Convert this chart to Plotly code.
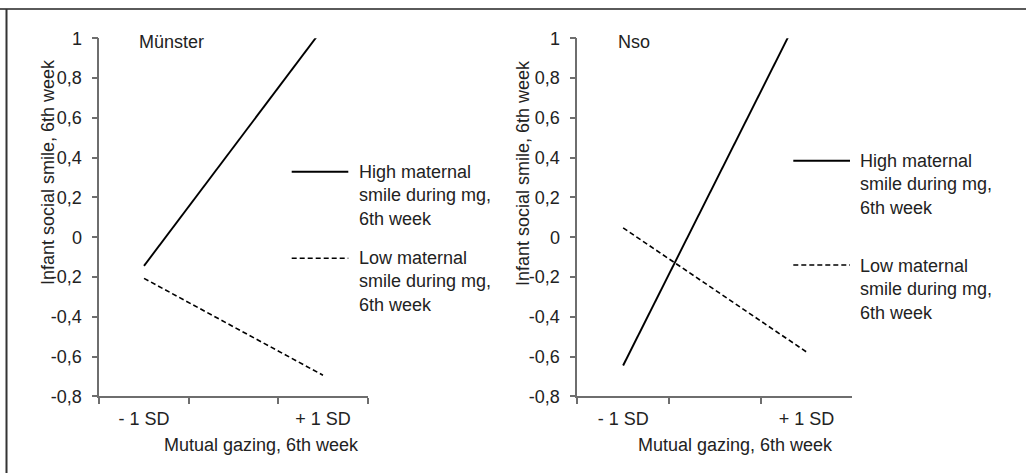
import plotly.graph_objects as go

# ---- data ----
x_categories = ["- 1 SD", " ", "+ 1 SD"]
x_points = ["- 1 SD", "+ 1 SD"]
munster_high = [-0.144, 1.05]
munster_low = [-0.207, -0.694]
nso_high = [-0.645, 1.19]
nso_low = [0.047, -0.577]
y_tickvals = [-0.8, -0.6, -0.4, -0.2, 0, 0.2, 0.4, 0.6, 0.8, 1]
y_ticktext = ["-0,8", "-0,6", "-0,4", "-0,2", "0", "0,2", "0,4", "0,6", "0,8", "1"]
panel_titles = ["Münster", "Nso"]
series_names = ["High maternal<br>smile during mg,<br>6th week",
                "Low maternal<br>smile during mg,<br>6th week"]
x_title = "Mutual gazing, 6th week"
y_title = "Infant social smile, 6th week"

W, H = 1026, 473
FONT = "Liberation Sans, Arial, sans-serif"
TXT = "#222222"
AX = "#6e6e6e"
FS = 18

def px(x):
    return x / W

def py(y):
    return 1 - y / H

fig = go.Figure()

panels = [
    dict(high=munster_high, low=munster_low, xa="x", ya="y",
         dom=(99.3, 367.7)),
    dict(high=nso_high, low=nso_low, xa="x2", ya="y2",
         dom=(577.3, 852.3)),
]

for p in panels:
    fig.add_trace(go.Scatter(x=x_points, y=p["high"], mode="lines",
                             line=dict(color="black", width=1.9),
                             xaxis=p["xa"], yaxis=p["ya"], showlegend=False,
                             hoverinfo="skip"))
    fig.add_trace(go.Scatter(x=x_points, y=p["low"], mode="lines",
                             line=dict(color="black", width=1.6, dash="5px,3px"),
                             xaxis=p["xa"], yaxis=p["ya"], showlegend=False,
                             hoverinfo="skip"))

ydom = [py(396.3), py(38.3)]
axis_common = dict(showgrid=False, zeroline=False, showline=True,
                   linecolor=AX, linewidth=1.6, ticks="outside",
                   tickcolor=AX, tickwidth=1.6, ticklen=6, automargin=False,
                   tickfont=dict(family=FONT, size=FS, color=TXT))

layout = dict(width=W, height=H, margin=dict(l=0, r=0, t=0, b=0, pad=0, autoexpand=False),
              paper_bgcolor="white", plot_bgcolor="white",
              font=dict(family=FONT, size=FS, color=TXT), showlegend=False)

for i, p in enumerate(panels):
    sfx = "" if i == 0 else str(i + 1)
    layout["xaxis" + sfx] = dict(axis_common, type="category",
                                 categoryorder="array", categoryarray=x_categories,
                                 range=[-0.5, 2.5], tickson="boundaries",
                                 ticklabelstandoff=5,
                                 domain=[px(p["dom"][0]), px(p["dom"][1])],
                                 anchor="y" + sfx, fixedrange=True)
    layout["yaxis" + sfx] = dict(axis_common, range=[-0.8, 1],
                                 tickvals=y_tickvals, ticktext=y_ticktext,
                                 ticklabelstandoff=6,
                                 domain=ydom, anchor="x" + sfx, fixedrange=True)

fig.update_layout(**layout)

# ---- annotations (titles, legends) ----
ann = []
shapes = []
title_pos = [(136.7, 42), (616, 42)]
ytitle_pos = [(48, 172), (523, 173)]
xtitle_pos = [(261.7, 445), (735, 445)]
leg_line_x = [(291.7, 348.3), (793.3, 850)]
leg_line_y = [(171.7, 258.3), (160.7, 265)]
leg_text_x = [356.7, 858.3]
leg_text_y = [(195, 281.7), (184.3, 289.3)]

for i in range(2):
    ann.append(dict(text=panel_titles[i], x=px(title_pos[i][0]), y=py(title_pos[i][1]),
                    xref="paper", yref="paper", xanchor="left", yanchor="middle",
                    showarrow=False, font=dict(family=FONT, size=FS, color=TXT)))
    ann.append(dict(text=y_title, x=px(ytitle_pos[i][0]), y=py(ytitle_pos[i][1]),
                    xref="paper", yref="paper", xanchor="center", yanchor="middle",
                    textangle=-90, showarrow=False,
                    font=dict(family=FONT, size=FS, color=TXT)))
    ann.append(dict(text=x_title, x=px(xtitle_pos[i][0]), y=py(xtitle_pos[i][1]),
                    xref="paper", yref="paper", xanchor="center", yanchor="middle",
                    showarrow=False, font=dict(family=FONT, size=FS, color=TXT)))
    for j in range(2):
        ann.append(dict(text=series_names[j], x=px(leg_text_x[i]), y=py(leg_text_y[i][j]),
                        xref="paper", yref="paper", xanchor="left", yanchor="middle",
                        align="left", showarrow=False,
                        font=dict(family=FONT, size=FS, color=TXT)))
        shapes.append(dict(type="line", xref="paper", yref="paper",
                           x0=px(leg_line_x[i][0]), x1=px(leg_line_x[i][1]),
                           y0=py(leg_line_y[i][j]), y1=py(leg_line_y[i][j]),
                           line=dict(color="black", width=1.9 if j == 0 else 1.6,
                                     dash="solid" if j == 0 else "5px,3px")))

# frame border (top and left visible)
shapes.append(dict(type="line", xref="paper", yref="paper", x0=0, x1=1,
                   y0=py(9), y1=py(9), line=dict(color="#5a5a5a", width=2)))
shapes.append(dict(type="line", xref="paper", yref="paper", x0=px(6.5), x1=px(6.5),
                   y0=py(9), y1=0, line=dict(color="#333333", width=2)))

fig.update_layout(annotations=ann, shapes=shapes)
fig.write_html("out.html", config={"displayModeBar": False},
               post_script="document.body.style.margin='0';"
                           "document.body.style.overflow='hidden';")
